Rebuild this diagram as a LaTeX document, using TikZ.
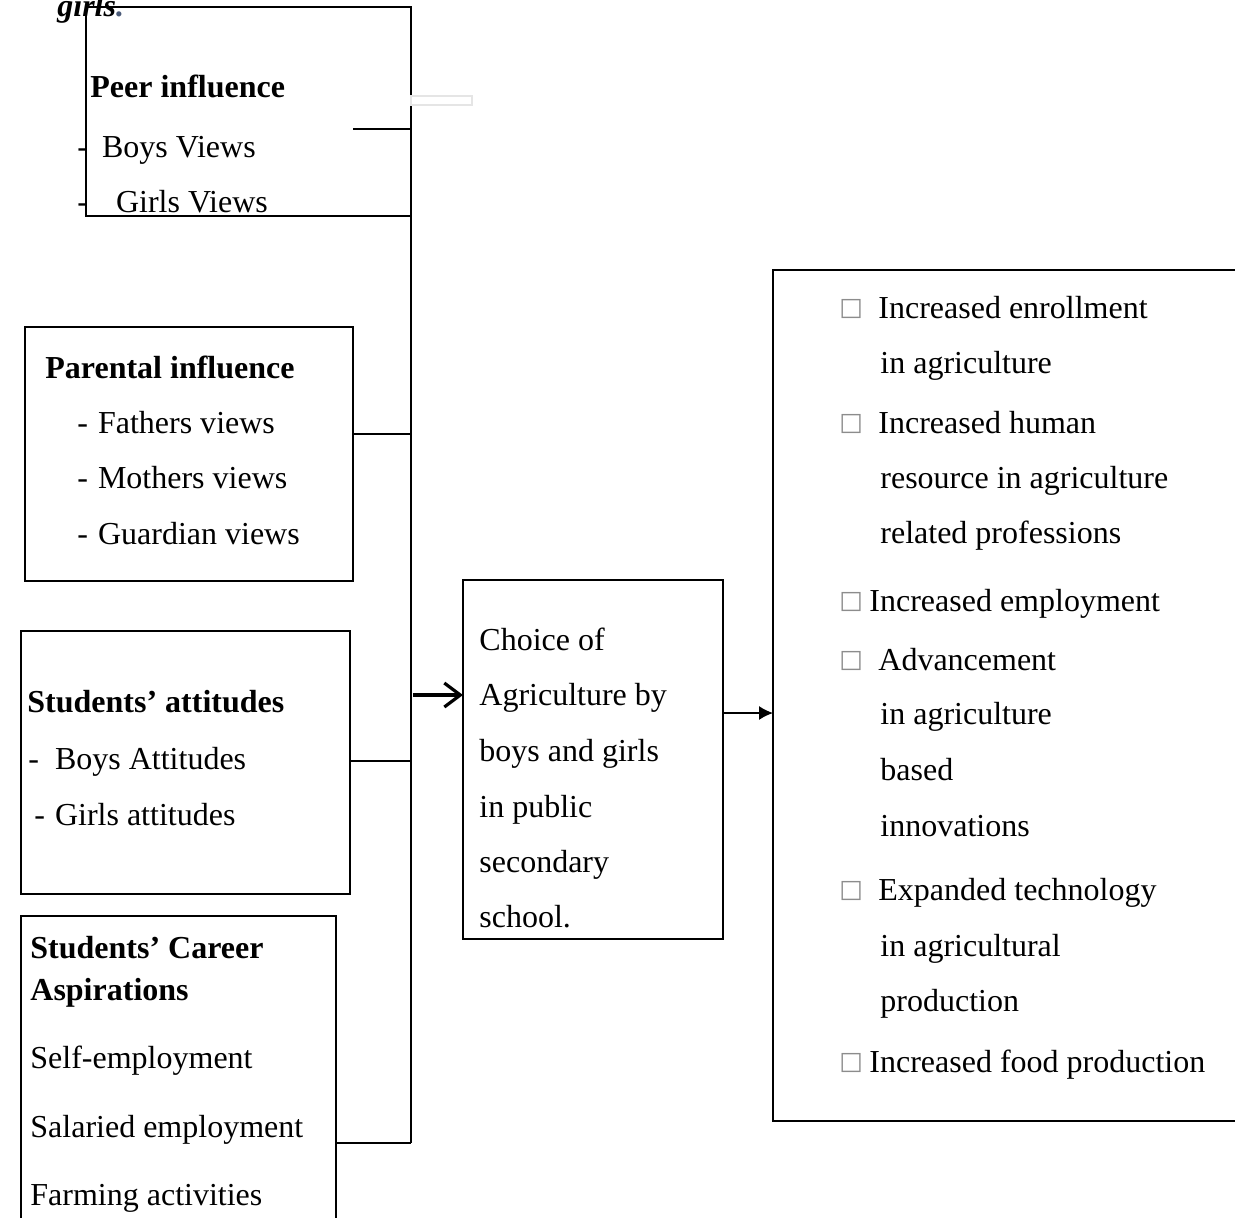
\documentclass[tikz,border=0pt]{standalone}
\usepackage{fontspec}
\setmainfont{Liberation Serif}
\newfontfamily\glyphfont{DejaVu Sans}
\usetikzlibrary{arrows.meta}
\definecolor{dotblue}{HTML}{4A5A78}
\begin{document}
\begin{tikzpicture}[x=0.5pt,y=-0.5pt,line join=miter,font=\fontsize{16}{19}\selectfont,
    frame/.style={draw,line width=0.75pt,anchor=north west,inner sep=0pt,outer sep=0pt},
    txt/.style={anchor=base west,inner sep=0pt},
    head/.style={txt,font=\fontsize{16}{19}\selectfont\bfseries},
    tick/.style={anchor=base west,inner sep=0pt,text=black!45,font=\glyphfont\fontsize{12.5}{12.5}\selectfont},
    link/.style={line width=0.7pt}]
	\useasboundingbox (0,0) rectangle (1235,1217);
	% boxes
	\node[frame,minimum width=162.5pt,minimum height=104.5pt] (peer) at (86,7) {};
	\node[frame,minimum width=164pt,minimum height=127pt] (parent) at (25,327) {};
	\node[frame,minimum width=164.5pt,minimum height=131.5pt] (attitude) at (21,631) {};
	\node[frame,minimum width=157.5pt,minimum height=157pt] (career) at (21,916) {};
	\node[frame,minimum width=130pt,minimum height=179.5pt] (choice) at (463,580) {};
	\node[frame,minimum width=236pt,minimum height=425.5pt] (outcome) at (773,270) {};
	\draw[black!10,line width=0.75pt] (411,96) rectangle (472,105);
	% texts on the left
	\node[head,font=\fontsize{16}{19}\selectfont\bfseries\itshape] (girls) at (57,16) {girls\textcolor{dotblue}{.}};
	\node[head] (peer-h) at (90,97) {Peer influence};
	\node[txt] (peer-1) at (77,157) {-\hspace{7pt}Boys Views};
	\node[txt] (peer-2) at (77,212) {-\hspace{14pt}Girls Views};
	\node[head] (parent-h) at (45,378) {Parental influence};
	\node[txt] (parent-1) at (77,433) {-\hspace{5pt}Fathers views};
	\node[txt] (parent-2) at (77,488) {-\hspace{5pt}Mothers views};
	\node[txt] (parent-3) at (77,544) {-\hspace{5pt}Guardian views};
	\node[head] (attitude-h) at (27,712) {Students’ attitudes};
	\node[txt] (attitude-1) at (28,769) {-\hspace{8pt}Boys Attitudes};
	\node[txt] (attitude-2) at (34,825) {-\hspace{5pt}Girls attitudes};
	\node[head] (career-h) at (30,958) {Students’ Career};
	\node[head] (career-h2) at (30,1000) {Aspirations};
	\node[txt] (career-1) at (30,1068) {Self-employment};
	\node[txt] (career-2) at (30,1137) {Salaried employment};
	\node[txt] (career-3) at (30,1205) {Farming activities};
	% middle box
	\foreach \n/\y/\t in {1/650/Choice of,2/705/Agriculture by,3/761/boys and girls,4/817/in public,5/872/secondary,6/927/school.}
		\node[txt] (choice-\n) at (479,\y) {\t};
	% outcomes
	\foreach \n/\y in {1/315,2/430,3/608,4/667,5/897,6/1069}
		\node[tick] (tick-\n) at (839,\y) {□};
	\foreach \n/\x/\y/\t in {1/878/318/Increased enrollment,2/880/373/in agriculture,3/878/433/Increased human,
		4/880/488/resource in agriculture,5/880/543/related professions,6/869/611/Increased employment,
		7/878/670/Advancement,8/880/724/in agriculture,9/880/780/based,10/880/836/innovations,
		11/878/900/Expanded technology,12/880/956/in agricultural,13/880/1011/production,14/869/1072/Increased food production}
		\node[txt] (out-\n) at (\x,\y) {\t};
	% connectors
	\coordinate (sp-0) at (411,129);
	\coordinate (sp-1) at (411,434);
	\coordinate (sp-2) at (411,761);
	\coordinate (sp-3) at (411,1143);
	\coordinate (sp-a) at (413,695);
	\draw[link] (peer.south east) -- (sp-3);
	\draw[link] (353,129) coordinate (peer-s) -- (sp-0);
	\draw[link] (parent.east |- sp-1) -- (sp-1);
	\draw[link] (attitude.east |- sp-2) -- (sp-2);
	\draw[link] (career.east |- sp-3) -- (sp-3);
	\draw[line width=1.6pt,-{Straight Barb[length=8pt,width=12pt]}] (sp-a) -- (choice.west |- sp-a);
	\draw[link,-{Latex[length=7pt,width=7pt]}] (choice.east |- 0,713) -- (outcome.west |- 0,713);
\end{tikzpicture}
\end{document}
